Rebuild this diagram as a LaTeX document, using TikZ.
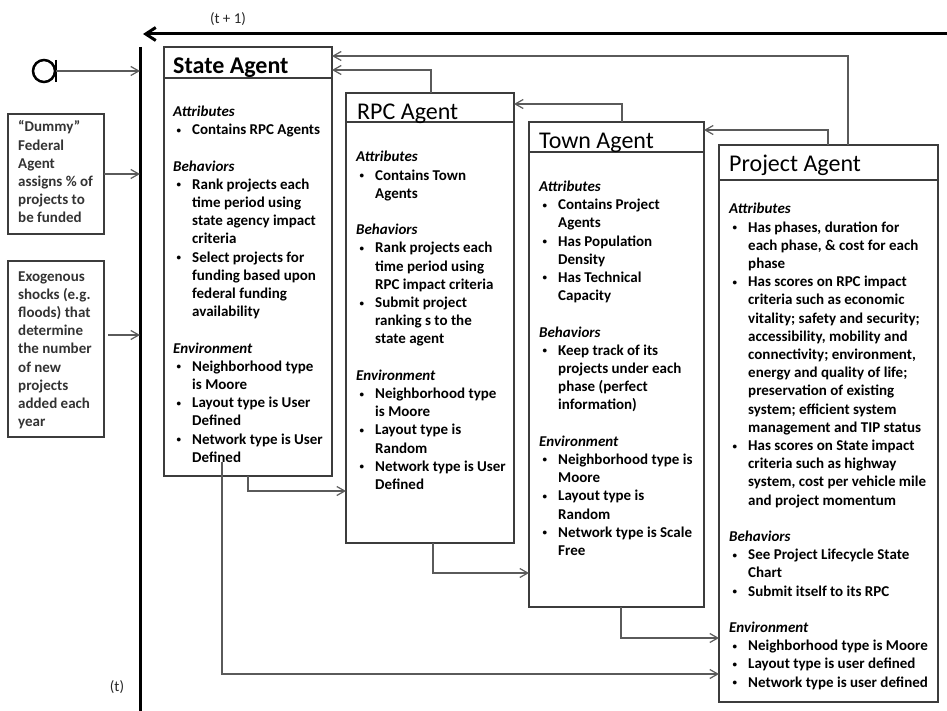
\documentclass[tikz,border=0pt]{standalone}
\usepackage{fontspec}
\setmainfont{Carlito}
\usetikzlibrary{arrows.meta}
\definecolor{boxgray}{HTML}{3C3C3C}
\definecolor{linegray}{HTML}{5A5A5A}
\newcommand{\bul}{\makebox[19pt][l]{\hspace{3.5pt}\raisebox{1.5pt}{\fontsize{9}{9}\selectfont\textbullet}}}
\newcommand{\ind}{\hspace*{19pt}}
\newcommand{\hd}[1]{\textit{#1}}
\tikzset{
  agent/.style={draw=boxgray, line width=1.2pt, rectangle, inner sep=0pt, outer sep=0pt, anchor=north west},
  agenttitle/.style={font=\fontsize{24}{28}\selectfont, inner sep=0pt, anchor=base west},
  agentbody/.style={font=\fontsize{15}{18.2}\selectfont\bfseries, inner sep=0pt, anchor=base west},
  sidetext/.style={agentbody, text=black!80},
  link/.style={draw=linegray, line width=1.2pt, -{Straight Barb[length=8pt,width=9pt]}},
  timeline/.style={line width=3pt},
}
\begin{document}
\begin{tikzpicture}[x=1pt, y=-1pt]
  \useasboundingbox (0,0) rectangle (947,711);

  % time axis
  \coordinate (tl top) at (140,47);
  \coordinate (tl bot) at (140,711);
  \coordinate (next right) at (947,34);
  \coordinate (next left) at (143,34);
  \draw[timeline] (tl top) -- (tl bot);
  \draw[timeline, -{Straight Barb[length=10pt,width=13pt]}] (next right) -- (next left);
  \node[font=\fontsize{15}{18}\selectfont, text=black!85] (next label) at (228,19) {(t + 1)};
  \node[font=\fontsize{15}{18}\selectfont, text=black!85] (now label) at (117,687) {(t)};

  % start state
  \node[circle, draw, line width=2.5pt, minimum size=22pt, inner sep=0pt] (start) at (44,71) {};
  \draw[line width=2pt] ([yshift=11pt]start.east) -- ([yshift=-11pt]start.east);
  \draw[link] (start.east) -- (start.east -| tl top);

  % outside inputs
  \node[agent, minimum width=96pt, minimum height=120pt] (dummy) at (8,114) {};
  \node[sidetext] (dummy text) at (18,132) {\begin{tabular}[t]{@{}l@{}}
    “Dummy”\\ Federal\\ Agent\\ assigns \% of\\ projects to\\ be funded
  \end{tabular}};
  \node[agent, minimum width=96pt, minimum height=176pt] (exog) at (8,261) {};
  \node[sidetext] (exog text) at (18,281) {\begin{tabular}[t]{@{}l@{}}
    Exogenous\\ shocks (e.g.\\ floods) that\\ determine\\ the number\\ of new\\ projects\\ added each\\ year
  \end{tabular}};
  \coordinate (exog out) at (108,335);
  \draw[link] (dummy.east) -- (dummy.east -| tl top);
  \draw[link] (exog out) -- (exog out -| tl top);

  % agent boxes
  \node[agent, minimum width=168pt, minimum height=429pt] (state) at (164,47) {};
  \node[agent, minimum width=168pt, minimum height=450pt] (rpc) at (346,93) {};
  \node[agent, minimum width=175pt, minimum height=485pt] (town) at (529,122) {};
  \node[agent, minimum width=219pt, minimum height=557pt] (project) at (719,145) {};
  \foreach \n/\h in {state/31, rpc/29, town/30, project/35}
    \draw[draw=boxgray, line width=1.2pt] ([yshift=-\h pt]\n.north west) -- ([yshift=-\h pt]\n.north east);

  \node[agenttitle, font=\fontsize{24}{28}\selectfont\bfseries] (state title) at (173,74) {State Agent};
  \node[agenttitle] (rpc title) at (357,120) {RPC Agent};
  \node[agenttitle] (town title) at (539,149) {Town Agent};
  \node[agenttitle] (project title) at (729,172) {Project Agent};

  \node[agentbody] (state body) at (173,116.5) {\begin{tabular}[t]{@{}l@{}}
    \hd{Attributes}\\
    \bul Contains RPC Agents\\
    \\
    \hd{Behaviors}\\
    \bul Rank projects each\\ \ind time period using\\ \ind state agency impact\\ \ind criteria\\
    \bul Select projects for\\ \ind funding based upon\\ \ind federal funding\\ \ind availability\\
    \\
    \hd{Environment}\\
    \bul Neighborhood type\\ \ind is Moore\\
    \bul Layout type is User\\ \ind Defined\\
    \bul Network type is User\\ \ind Defined
  \end{tabular}};

  \node[agentbody] (rpc body) at (356,162) {\begin{tabular}[t]{@{}l@{}}
    \hd{Attributes}\\
    \bul Contains Town\\ \ind Agents\\
    \\
    \hd{Behaviors}\\
    \bul Rank projects each\\ \ind time period using\\ \ind RPC impact criteria\\
    \bul Submit project\\ \ind ranking s to the\\ \ind state agent\\
    \\
    \hd{Environment}\\
    \bul Neighborhood type\\ \ind is Moore\\
    \bul Layout type is\\ \ind Random\\
    \bul Network type is User\\ \ind Defined
  \end{tabular}};

  \node[agentbody] (town body) at (539,191.5) {\begin{tabular}[t]{@{}l@{}}
    \hd{Attributes}\\
    \bul Contains Project\\ \ind Agents\\
    \bul Has Population\\ \ind Density\\
    \bul Has Technical\\ \ind Capacity\\
    \\
    \hd{Behaviors}\\
    \bul Keep track of its\\ \ind projects under each\\ \ind phase (perfect\\ \ind information)\\
    \\
    \hd{Environment}\\
    \bul Neighborhood type is\\ \ind Moore\\
    \bul Layout type is\\ \ind Random\\
    \bul Network type is Scale\\ \ind Free
  \end{tabular}};

  \node[agentbody] (project body) at (729,214) {\begin{tabular}[t]{@{}l@{}}
    \hd{Attributes}\\
    \bul Has phases, duration for\\ \ind each phase, \& cost for each\\ \ind phase\\
    \bul Has scores on RPC impact\\ \ind criteria such as economic\\ \ind vitality; safety and security;\\
    \ind accessibility, mobility and\\ \ind connectivity; environment,\\ \ind energy and quality of life;\\
    \ind preservation of existing\\ \ind system; efficient system\\ \ind management and TIP status\\
    \bul Has scores on State impact\\ \ind criteria such as highway\\ \ind system, cost per vehicle mile\\ \ind and project momentum\\
    \\
    \hd{Behaviors}\\
    \bul See Project Lifecycle State\\ \ind Chart\\
    \bul Submit itself to its RPC\\
    \\
    \hd{Environment}\\
    \bul Neighborhood type is Moore\\
    \bul Layout type is user defined\\
    \bul Network type is user defined
  \end{tabular}};

  % reporting up
  \draw[link] (project.north -| 848,0) |- (state.east |- 0,56);
  \draw[link] (rpc.north -| 431,0) |- (state.east |- 0,70);
  \draw[link] (town.north -| 622,0) |- (rpc.east |- 0,104);
  \draw[link] (project.north -| 828,0) |- (town.east |- 0,130);

  % passing down
  \coordinate (state out) at (222,462);
  \draw[link] (state.south -| 248,0) |- (rpc.west |- 0,491);
  \draw[link] (rpc.south -| 433,0) |- (town.west |- 0,573);
  \draw[link] (town.south -| 621,0) |- (project.west |- 0,638);
  \draw[link] (state out) |- (project.west |- 0,674);
\end{tikzpicture}
\end{document}
